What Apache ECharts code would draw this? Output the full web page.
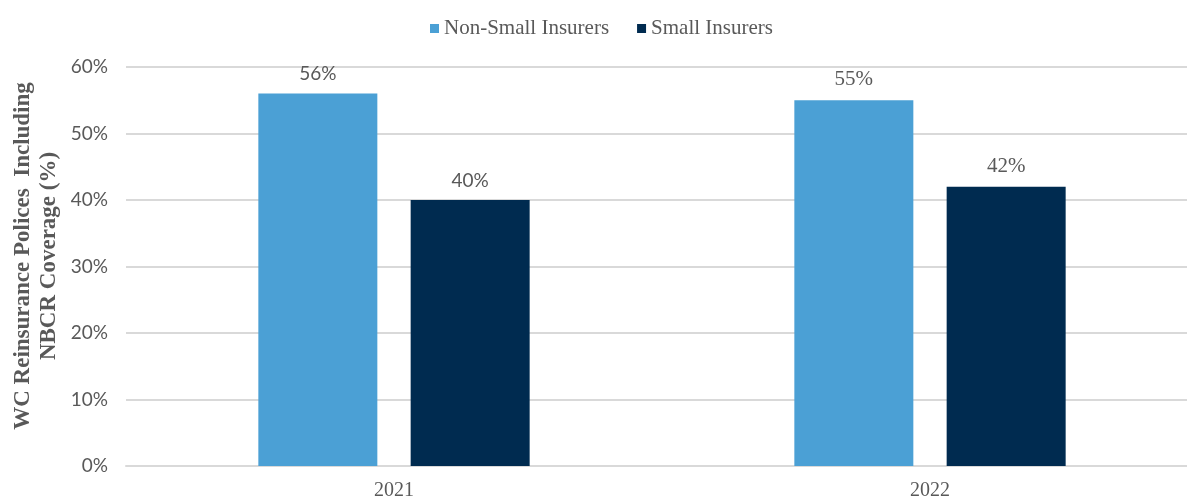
<!DOCTYPE html>
<html>
<head>
<meta charset="utf-8">
<script src="https://cdn.jsdelivr.net/npm/echarts@6/dist/echarts.min.js"></script>
<style>
html,body{margin:0;padding:0;background:#fff;overflow:hidden;}
#chart{width:1198px;height:501px;}
</style>
</head>
<body>
<div id="chart"></div>
<script>
var categories = ['2021', '2022'];
var seriesNames = ['Non-Small Insurers', 'Small Insurers'];
var nonSmall = [56, 55];
var small = [40, 42];
var yTicks = ['0%', '10%', '20%', '30%', '40%', '50%', '60%'];
var yTitleLines = ['WC Reinsurance Polices  Including', 'NBCR Coverage (%)'];

var SERIF = '"Liberation Serif", "Times New Roman", serif';
var SANS = 'Lato, "Open Sans", sans-serif';
var labelFontByCategory = [SANS, SERIF];
var labelSizeByCategory = [19, 21];
var colors = ['#4BA0D5', '#002B50'];
var textColor = '#595959';

function buildData(vals) {
  return vals.map(function (v, i) {
    return { value: v, label: { fontFamily: labelFontByCategory[i], fontSize: labelSizeByCategory[i] } };
  });
}

var chart = echarts.init(document.getElementById('chart'));
chart.setOption({
  animation: false,
  color: colors,
  grid: { left: 126, right: 0, top: 67, bottom: 34, containLabel: false },
  legend: {
    data: seriesNames,
    top: 13,
    left: 425,
    icon: 'rect',
    itemWidth: 9,
    itemHeight: 9,
    itemGap: 28,
    textStyle: { fontFamily: SERIF, fontSize: 21, color: textColor }
  },
  xAxis: {
    type: 'category',
    data: categories,
    axisTick: { show: false },
    axisLine: { lineStyle: { color: '#d9d9d9', width: 2 } },
    axisLabel: { fontFamily: SERIF, fontSize: 20, color: textColor, margin: 15 }
  },
  yAxis: {
    type: 'value',
    min: 0,
    max: 60,
    interval: 10,
    axisLine: { show: false },
    axisTick: { show: false },
    splitLine: { lineStyle: { color: '#d9d9d9', width: 2 } },
    axisLabel: {
      fontFamily: SANS, fontSize: 19, color: textColor, margin: 18,
      formatter: function (v) { return yTicks[Math.round(v / 10)]; }
    }
  },
  graphic: [{
    type: 'text',
    x: 36,
    y: 256,
    rotation: Math.PI / 2,
    style: {
      text: yTitleLines.join('\n'),
      font: 'bold 23px "Liberation Serif", "Times New Roman", serif',
      fill: textColor,
      textAlign: 'center',
      textVerticalAlign: 'middle',
      lineHeight: 26
    }
  }],
  series: [
    {
      name: seriesNames[0],
      type: 'bar',
      barWidth: 119,
      barGap: '28%',
      data: buildData(nonSmall),
      label: { show: true, position: 'top', distance: 10, color: textColor,
        formatter: function (p) { return p.value + '%'; } }
    },
    {
      name: seriesNames[1],
      type: 'bar',
      barWidth: 119,
      barGap: '28%',
      data: buildData(small),
      label: { show: true, position: 'top', distance: 10, color: textColor,
        formatter: function (p) { return p.value + '%'; } }
    }
  ]
});
</script>
</body>
</html>
